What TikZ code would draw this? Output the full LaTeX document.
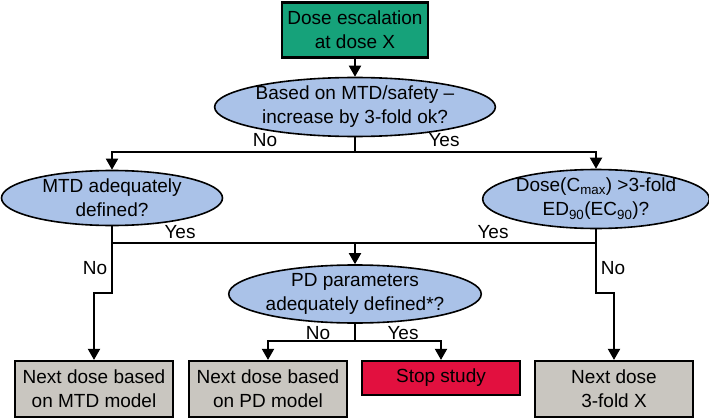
\documentclass[tikz,border=0pt]{standalone}
\usepackage{fontspec}
\setmainfont{Liberation Sans}
\usetikzlibrary{shapes.geometric,arrows.meta}
\definecolor{topgreen}{HTML}{16A27A}
\definecolor{qblue}{HTML}{AAC2E8}
\definecolor{boxgray}{HTML}{C9C6C0}
\definecolor{stopred}{HTML}{E2103F}
\tikzset{
  every node/.style={font=\fontsize{19}{24}\selectfont, align=center, inner sep=0pt},
  startbox/.style={rectangle, draw=black, line width=2.2pt, fill=topgreen, minimum width=146pt, minimum height=55pt},
  question/.style={ellipse, draw=black, line width=1.6pt, fill=qblue},
  endbox/.style={rectangle, draw=black, line width=2.2pt, fill=boxgray, minimum width=158pt, minimum height=56pt},
  stopbox/.style={rectangle, draw=black, line width=2.2pt, fill=stopred, minimum width=158pt, minimum height=34pt},
  conn/.style={draw=black, line width=1.9pt},
  arr/.style={conn, -{Triangle[width=12pt,length=11pt]}},
  lbl/.style={}
}
\begin{document}
\begin{tikzpicture}[x=1pt,y=-1pt]
\useasboundingbox (0,0) rectangle (709,420);
% nodes
\node[startbox] (top) at (355,30) {Dose escalation\\at dose X};
\node[question, minimum width=225pt, minimum height=55pt] (q1) at (355,107) {Based on MTD/safety –\\increase by 3-fold ok?};
\node[question, minimum width=221pt, minimum height=55pt] (q2) at (112,198) {MTD adequately\\defined?};
\node[question, minimum width=218pt, minimum height=56pt] (q3) at (596,199) {Dose(C\textsubscript{max}) >3-fold\\ED\textsubscript{90}(EC\textsubscript{90})?};
\node[question, minimum width=221pt, minimum height=48pt] (q4) at (355,294) {PD parameters\\adequately defined*?};
\node[endbox] (b1) at (94,389) {Next dose based\\on MTD model};
\node[endbox] (b2) at (268,389) {Next dose based\\on PD model};
\node[stopbox] (b3) at (441,378) {Stop study};
\node[endbox] (b4) at (614,389) {Next dose\\3-fold X};
% junction coordinates
\coordinate (s1) at (355,152);
\coordinate (yl) at (112,243);
\coordinate (ym) at (355,243);
\coordinate (yr) at (596,243);
\coordinate (jl) at (112,293);
\coordinate (jr) at (596,293);
\coordinate (s4) at (355,341);
% connectors
\draw[arr] (top.south) -- (q1.north);
\draw[conn] (q1.south) -- (s1);
\draw[arr] (s1) -| (q2.north);
\draw[arr] (s1) -| (q3.north);
\draw[conn] (yl) -- (yr);
\draw[arr] (ym) -- (q4.north);
\draw[arr] (q2.south) -- (jl) -| (b1.north);
\draw[arr] (q3.south) -- (jr) -| (b4.north);
\draw[conn] (q4.south) -- (s4);
\draw[arr] (s4) -| (b2.north);
\draw[arr] (s4) -| (b3.north);
% labels
\node[lbl] (n1) at (265,140) {No};
\node[lbl] (y1) at (444,140) {Yes};
\node[lbl] (y2) at (180,232) {Yes};
\node[lbl] (y3) at (493,232) {Yes};
\node[lbl] (n2) at (95,268) {No};
\node[lbl] (n3) at (613,268) {No};
\node[lbl] (n4) at (318,333) {No};
\node[lbl] (y4) at (403,333) {Yes};
\end{tikzpicture}
\end{document}
